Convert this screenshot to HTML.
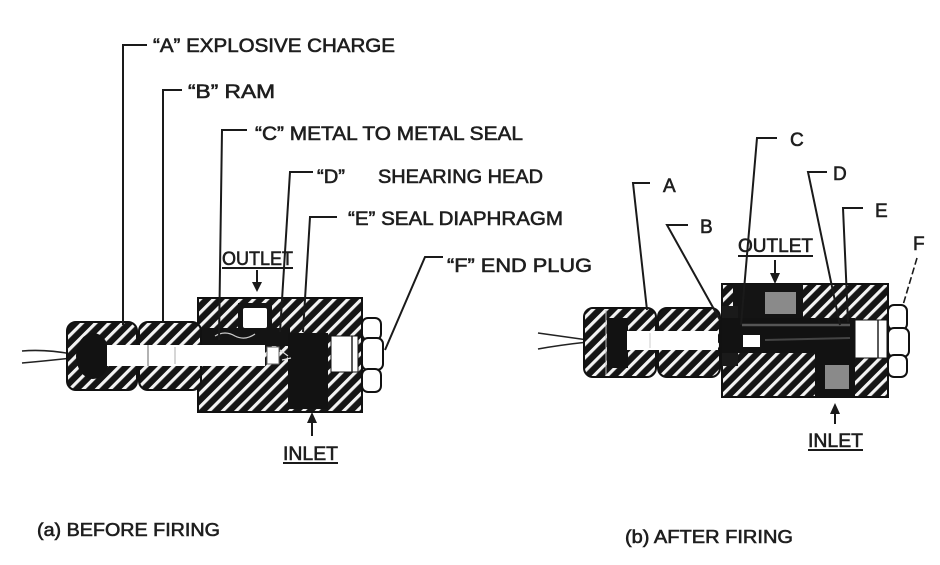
<!DOCTYPE html>
<html>
<head>
<meta charset="utf-8">
<style>
  html,body{margin:0;padding:0;background:#fff;}
  svg{display:block;}
  text{font-family:"Liberation Sans","DejaVu Sans",sans-serif;fill:#1e1e1e;stroke:#1e1e1e;stroke-width:0.6;}
</style>
</head>
<body>
<svg width="940" height="565" viewBox="0 0 940 565" xmlns="http://www.w3.org/2000/svg">
  <defs>
    <pattern id="hatch" patternUnits="userSpaceOnUse" width="9.5" height="9.5" patternTransform="rotate(45)">
      <rect x="0" y="0" width="9.5" height="9.5" fill="#151515"/>
      <rect x="0" y="0" width="3.2" height="9.5" fill="#f4f4f4"/>
    </pattern>
  </defs>
  <rect width="940" height="565" fill="#fff"/>

  <!-- ================= LEFT (a) ================= -->
  <path d="M22,351 Q45,349 72,354" fill="none" stroke="#222" stroke-width="1.6"/>
  <path d="M22,363 Q45,361 72,358" fill="none" stroke="#222" stroke-width="1.6"/>

  <rect x="198" y="298" width="164" height="114" fill="url(#hatch)" stroke="#111" stroke-width="2"/>
  <rect x="200" y="328" width="90" height="18" fill="#141414"/>
  <path d="M215,336 q10,-6 20,0 q10,5 20,-2" fill="none" stroke="#ccc" stroke-width="1.2"/>
  <rect x="238" y="303" width="34" height="28" fill="#141414"/>
  <rect x="243" y="308" width="24" height="20" rx="2" fill="#fff"/>
  <rect x="288" y="333" width="40" height="76" fill="#121212"/>
  <rect x="331" y="336" width="27" height="36" fill="#fff" stroke="#111" stroke-width="1"/>
  <line x1="352" y1="336" x2="352" y2="372" stroke="#222" stroke-width="1.5"/>
  <rect x="362" y="318" width="19" height="22" rx="6" fill="#fff" stroke="#111" stroke-width="2"/>
  <rect x="362" y="338" width="21" height="32" rx="6" fill="#fff" stroke="#111" stroke-width="2"/>
  <rect x="362" y="369" width="19" height="23" rx="6" fill="#fff" stroke="#111" stroke-width="2"/>

  <rect x="67" y="322" width="70" height="68" rx="9" fill="url(#hatch)" stroke="#111" stroke-width="2"/>
  <ellipse cx="93" cy="356" rx="17" ry="23" fill="#121212"/>
  <rect x="139" y="322" width="62" height="68" rx="9" fill="url(#hatch)" stroke="#111" stroke-width="2"/>
  <rect x="107" y="345" width="158" height="21" fill="#fff"/>
  <line x1="148" y1="345" x2="148" y2="366" stroke="#999" stroke-width="1.5"/>
  <line x1="175" y1="347" x2="175" y2="364" stroke="#bbb" stroke-width="1.2"/>
  <rect x="267" y="347" width="12" height="17" fill="#fff" stroke="#666" stroke-width="1"/>
  <path d="M280,350 l8,6 M282,360 l9,-2" stroke="#ddd" stroke-width="1.2"/>

  <g fill="none" stroke="#1a1a1a" stroke-width="2">
    <path d="M147,45 H123 V325"/>
    <path d="M182,90 H163 V323"/>
    <path d="M247,130 H222 L219,340"/>
    <path d="M313,172 H290 L280,332"/>
    <path d="M337,217 H310 L303,332"/>
    <path d="M443,257 H425 L385,350"/>
    <line x1="257" y1="270" x2="257" y2="284"/>
    <line x1="312" y1="420" x2="312" y2="436"/>
    <line x1="222" y1="268" x2="293" y2="268"/>
    <line x1="283" y1="463" x2="338" y2="463"/>
  </g>
  <polygon points="252,282 262,282 257,292" fill="#1a1a1a"/>
  <polygon points="307,423 317,423 312,412" fill="#1a1a1a"/>

  <text x="153" y="52" font-size="19" textLength="242" lengthAdjust="spacingAndGlyphs">“A” EXPLOSIVE CHARGE</text>
  <text x="188" y="98" font-size="19" textLength="87" lengthAdjust="spacingAndGlyphs">“B” RAM</text>
  <text x="255" y="140" font-size="19" textLength="268" lengthAdjust="spacingAndGlyphs">“C” METAL TO METAL SEAL</text>
  <text x="317" y="183" font-size="19" textLength="28" lengthAdjust="spacingAndGlyphs">“D”</text>
  <text x="378" y="183" font-size="19" textLength="165" lengthAdjust="spacingAndGlyphs">SHEARING HEAD</text>
  <text x="348" y="225" font-size="19" textLength="215" lengthAdjust="spacingAndGlyphs">“E” SEAL DIAPHRAGM</text>
  <text x="447" y="272" font-size="19" textLength="145" lengthAdjust="spacingAndGlyphs">“F” END PLUG</text>
  <text x="222" y="265" font-size="19" textLength="71" lengthAdjust="spacingAndGlyphs">OUTLET</text>
  <text x="283" y="460" font-size="19" textLength="55" lengthAdjust="spacingAndGlyphs">INLET</text>

  <!-- ================= RIGHT (b) ================= -->
  <path d="M538,333 Q560,336 588,340" fill="none" stroke="#222" stroke-width="1.6"/>
  <path d="M538,349 Q560,345 588,342" fill="none" stroke="#222" stroke-width="1.6"/>

  <rect x="722" y="284" width="166" height="113" fill="url(#hatch)" stroke="#111" stroke-width="2"/>
  <rect x="733" y="284" width="70" height="42" fill="#141414"/>
  <rect x="722" y="306" width="16" height="60" fill="#1a1a1a"/>
  <rect x="722" y="318" width="133" height="35" fill="#121212"/>
  <rect x="815" y="350" width="40" height="47" fill="#121212"/>
  <rect x="765" y="292" width="31" height="22" fill="#8a8a8a"/>
  <rect x="825" y="365" width="24" height="24" fill="#8a8a8a"/>
  <line x1="742" y1="325" x2="850" y2="325" stroke="#555" stroke-width="2.5"/>
  <line x1="765" y1="340" x2="850" y2="338" stroke="#444" stroke-width="2"/>
  <rect x="743" y="335" width="17" height="12" fill="#fff"/>
  <rect x="855" y="320" width="32" height="38" fill="#fff" stroke="#111" stroke-width="1"/>
  <line x1="878" y1="320" x2="878" y2="358" stroke="#222" stroke-width="1.5"/>
  <rect x="888" y="305" width="19" height="25" rx="6" fill="#fff" stroke="#111" stroke-width="2"/>
  <rect x="888" y="328" width="21" height="29" rx="6" fill="#fff" stroke="#111" stroke-width="2"/>
  <rect x="888" y="355" width="19" height="22" rx="6" fill="#fff" stroke="#111" stroke-width="2"/>

  <rect x="584" y="308" width="72" height="69" rx="9" fill="url(#hatch)" stroke="#111" stroke-width="2"/>
  <rect x="607" y="318" width="21" height="50" fill="#121212"/>
  <line x1="606" y1="310" x2="606" y2="375" stroke="#bbb" stroke-width="1"/>
  <rect x="658" y="308" width="62" height="69" rx="9" fill="url(#hatch)" stroke="#111" stroke-width="2"/>
  <rect x="627" y="331" width="91" height="19" fill="#fff"/>
  <line x1="650" y1="333" x2="650" y2="348" stroke="#ccc" stroke-width="1"/>

  <g fill="none" stroke="#1a1a1a" stroke-width="2">
    <path d="M650,183 H633 L647,310"/>
    <path d="M688,225 H667 L720,320"/>
    <path d="M777,138 H757 L741,325"/>
    <path d="M827,172 H808 L840,325"/>
    <path d="M863,208 H843 L848,322"/>
    <line x1="775" y1="260" x2="775" y2="275"/>
    <line x1="835" y1="410" x2="835" y2="424"/>
    <line x1="738" y1="256" x2="813" y2="256"/>
    <line x1="808" y1="450" x2="863" y2="450"/>
  </g>
  <path d="M917,258 L903,305" fill="none" stroke="#1a1a1a" stroke-width="1.6" stroke-dasharray="7,3"/>
  <polygon points="770,273 780,273 775,284" fill="#1a1a1a"/>
  <polygon points="830,414 840,414 835,403" fill="#1a1a1a"/>

  <text x="663" y="192" font-size="19">A</text>
  <text x="700" y="233" font-size="19">B</text>
  <text x="790" y="146" font-size="19">C</text>
  <text x="833" y="180" font-size="19">D</text>
  <text x="875" y="217" font-size="19">E</text>
  <text x="913" y="250" font-size="19">F</text>
  <text x="738" y="252" font-size="19" textLength="75" lengthAdjust="spacingAndGlyphs">OUTLET</text>
  <text x="808" y="447" font-size="19" textLength="55" lengthAdjust="spacingAndGlyphs">INLET</text>

  <text x="37" y="536" font-size="18" textLength="183" lengthAdjust="spacingAndGlyphs">(a) BEFORE FIRING</text>
  <text x="625" y="543" font-size="18" textLength="168" lengthAdjust="spacingAndGlyphs">(b) AFTER FIRING</text>
</svg>
</body>
</html>
